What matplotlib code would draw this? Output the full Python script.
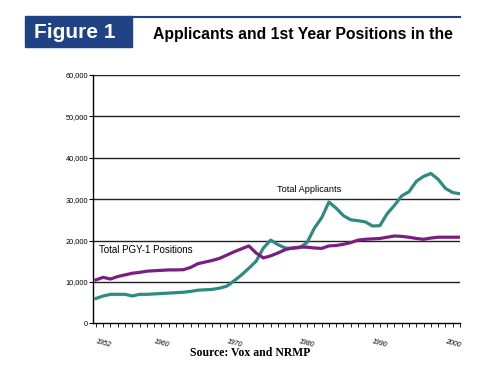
import matplotlib.pyplot as plt
import matplotlib.patches as mpatches

years = list(range(1951, 2002))
applicants = [6000, 6600, 7000, 7000, 7000, 6600, 7000, 7000, 7100, 7200,
              7300, 7400, 7500, 7700, 8000, 8100, 8200, 8500, 9000, 10300,
              11700, 13300, 15000, 18200, 20100, 19000, 18200, 18100, 18300, 19500,
              23000, 25500, 29300, 27800, 26000, 25000, 24800, 24500, 23500, 23600,
              26500, 28500, 30800, 31800, 34300, 35500, 36200, 34800, 32600, 31600,
              31300]
positions = [10500, 11100, 10700, 11300, 11700, 12100, 12300, 12600, 12700, 12800,
             12900, 12900, 12950, 13500, 14400, 14800, 15200, 15700, 16500, 17300,
             18000, 18700, 17000, 15800, 16300, 17000, 17800, 18200, 18400, 18400,
             18200, 18100, 18700, 18800, 19100, 19500, 20100, 20300, 20400, 20500,
             20800, 21100, 21000, 20800, 20500, 20300, 20600, 20800, 20800, 20800,
             20800]
yticks = [0, 10000, 20000, 30000, 40000, 50000, 60000]
xlabel_years = [1952, 1960, 1970, 1980, 1990, 2000]

teal = '#2f8a84'
purple = '#7a1f80'
navy = '#1f4384'
narrow = ['Liberation Sans Narrow', 'Liberation Sans']

fig = plt.figure(figsize=(5, 3.79), dpi=100)

# header
fig.patches.append(mpatches.Rectangle((25 / 500, 1 - 47 / 379), 107 / 500, 31 / 379,
                                      transform=fig.transFigure, color=navy))
fig.text(75 / 500, 1 - 32 / 379, 'Figure 1', color='white', fontsize=15,
         fontweight='bold', family='Liberation Sans', ha='center', va='center')
fig.add_artist(plt.Line2D([132 / 500, 460 / 500], [1 - 17 / 379, 1 - 17 / 379],
                          transform=fig.transFigure, color=navy, lw=1.5))
fig.text(153 / 500, 1 - 34 / 379, 'Applicants and 1st Year Positions in the',
         fontsize=11.3, fontweight='bold', family='Liberation Sans', ha='left', va='center')

ax = fig.add_axes([93 / 500, 1 - 323.3 / 379, 367 / 500, 248.3 / 379])
ax.set_xlim(1950.6, 2001)
ax.set_ylim(0, 60000)

for y in yticks[1:]:
    ax.axhline(y, color='#222222', lw=1, zorder=1)

ax.plot(years, applicants, color=teal, lw=2.3, solid_joinstyle='round', zorder=3)
ax.plot(years, positions, color=purple, lw=2.3, solid_joinstyle='round', zorder=3)

ax.text(1980.3, 32300, 'Total Applicants', fontsize=6.6, family=narrow,
        ha='center', va='center', zorder=2,
        bbox=dict(facecolor='white', edgecolor='none', pad=2.5))
ax.text(1951.4, 17600, 'Total PGY-1 Positions', fontsize=7, family=narrow,
        ha='left', va='center')

for side in ['top', 'right']:
    ax.spines[side].set_visible(False)
ax.spines['left'].set_linewidth(1)
ax.spines['bottom'].set_linewidth(1)

ax.set_yticks(yticks)
ax.set_yticklabels([f'{v:,}' for v in yticks], fontsize=5.3, family=narrow)
ax.tick_params(axis='y', length=3, width=0.8, pad=0.5)
ax.set_xticks(years, minor=True)
ax.set_xticks(xlabel_years)
ax.set_xticklabels([str(v) for v in xlabel_years], fontsize=5, style='italic',
                   rotation=-15, family=narrow)
ax.tick_params(axis='x', which='both', length=3, width=0.6, pad=8)

fig.text(250 / 500, 1 - 353 / 379, 'Source: Vox and NRMP', fontsize=8.5,
         fontweight='bold', family='Liberation Serif', ha='center', va='center')

fig.savefig('out.png', dpi=100)
